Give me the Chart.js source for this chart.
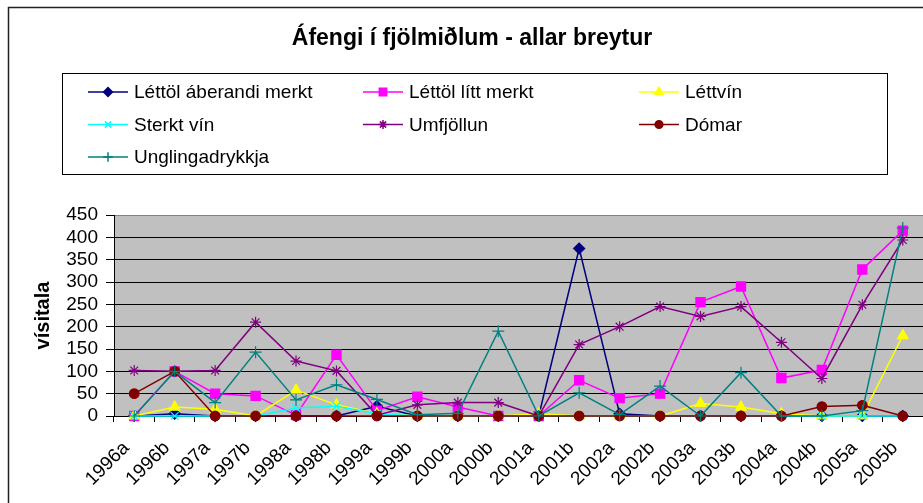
<!DOCTYPE html>
<html>
<head>
<meta charset="utf-8">
<script src="https://cdn.jsdelivr.net/npm/chart.js@4/dist/chart.umd.min.js"></script>
<style>
  html, body { margin: 0; padding: 0; background: #fff; }
  #wrap { width: 923px; height: 503px; position: relative; }
</style>
</head>
<body>
<div id="wrap"><canvas id="c"></canvas></div>
<script>
// ── Data ────────────────────────────────────────────────
const categories = ['1996a', '1996b', '1997a', '1997b', '1998a', '1998b', '1999a', '1999b', '2000a', '2000b',
  '2001a', '2001b', '2002a', '2002b', '2003a', '2003b', '2004a', '2004b', '2005a', '2005b'];

const lettolAberandi = [0, 5, 0, 0, 0, 0, 22, 0, 0, 0, 0, 375, 5, 0, 0, 0, 0, 0, 0, 0];
const lettolLitt     = [0, 100, 50, 45, 2, 137, 12, 43, 20, 0, 0, 80, 40, 50, 255, 290, 85, 103, 328, 415];
const lettvin        = [0, 20, 15, 0, 58, 25, 5, 0, 0, 0, 5, 0, 0, 0, 28, 20, 5, 0, 0, 180];
const sterktVin      = [0, 0, 0, 0, 18, 22, 5, 0, 0, 0, 0, 0, 0, 0, 0, 0, 0, 0, 0, 0];
const umfjollun      = [102, 100, 102, 210, 123, 101, 2, 25, 30, 30, 0, 160, 200, 245, 223, 245, 165, 84, 249, 394];
const domar          = [50, 100, 0, 0, 0, 0, 0, 0, 0, 0, 0, 0, 0, 0, 0, 0, 0, 21, 24, 0];
const unglinga       = [0, 100, 30, 143, 36, 70, 37, 3, 6, 190, 0, 52, 3, 67, 0, 97, 0, 0, 12, 421];

const yTicks = [0, 50, 100, 150, 200, 250, 300, 350, 400, 450];

const FONT = "'Liberation Sans', Arial, sans-serif";

// name, values, colour, point style, radius
const SERIES = [
  ['Léttöl áberandi merkt', lettolAberandi, '#000080', 'rectRot', 5.5],
  ['Léttöl lítt merkt', lettolLitt, '#FF00FF', 'rect', 6.5],
  ['Léttvín', lettvin, '#FFFF00', 'triangle', 6],
  ['Sterkt vín', sterktVin, '#00FFFF', 'crossRot', 5.5],
  ['Umfjöllun', umfjollun, '#800080', 'star', 5.5],
  ['Dómar', domar, '#800000', 'circle', 4.8],
  ['Unglingadrykkja', unglinga, '#008080', 'cross', 6],
];

// ── Plugins: chart frame, plot background, title, legend ─
const frame = {
  id: 'frame',
  beforeDraw(chart) {
    const { ctx, chartArea: a } = chart;
    ctx.save();
    ctx.fillStyle = '#fff';
    ctx.fillRect(0, 0, chart.width, chart.height);
    ctx.fillStyle = '#C0C0C0';
    ctx.fillRect(a.left, a.top, a.right - a.left, a.bottom - a.top);
    ctx.strokeStyle = '#222';
    ctx.lineWidth = 1.5;
    ctx.beginPath();
    ctx.moveTo(8.5, chart.height); ctx.lineTo(8.5, 7.5); ctx.lineTo(chart.width, 7.5);
    ctx.stroke();
    ctx.restore();
  },
  afterDraw(chart) {
    const ctx = chart.ctx;
    ctx.save();
    // title
    ctx.fillStyle = '#000';
    ctx.font = `bold 23px ${FONT}`;
    ctx.textAlign = 'center';
    ctx.textBaseline = 'middle';
    ctx.fillText('Áfengi í fjölmiðlum - allar breytur', 472, 39);
    // legend box
    ctx.strokeStyle = '#000';
    ctx.lineWidth = 1;
    ctx.strokeRect(62.5, 73.5, 825, 101);
    const colX = [88, 363, 639], rowY = [92, 124.5, 157];
    ctx.font = `19px ${FONT}`;
    ctx.textAlign = 'left';
    chart.data.datasets.forEach((ds, i) => {
      const x = colX[i % 3], y = rowY[Math.floor(i / 3)];
      ctx.strokeStyle = ds.borderColor;
      ctx.lineWidth = 1.5;
      ctx.beginPath(); ctx.moveTo(x, y); ctx.lineTo(x + 40, y); ctx.stroke();
      ctx.fillStyle = ds.backgroundColor;
      Chart.helpers.drawPoint(ctx, { pointStyle: ds.pointStyle, radius: ds.pointRadius * 0.8, rotation: 0, borderWidth: 1 }, x + 20, y);
      ctx.fillStyle = '#000';
      ctx.fillText(ds.label, x + 46, y + 1);
    });
    ctx.restore();
  }
};

// ── Chart ───────────────────────────────────────────────
Chart.defaults.color = '#000';
Chart.defaults.font.family = FONT;

new Chart(document.getElementById('c'), {
  type: 'line',
  data: {
    labels: categories,
    datasets: SERIES.map(([label, data, col, ps, r], i) => ({
      label, data,
      borderColor: col, backgroundColor: col,
      borderWidth: 1.5,
      pointStyle: ps, pointRadius: r, pointBorderWidth: 1.2,
      pointBorderColor: col, pointBackgroundColor: col,
      tension: 0, fill: false, clip: false,
      order: SERIES.length - i
    }))
  },
  options: {
    responsive: true, maintainAspectRatio: false, animation: false,
    layout: { autoPadding: false, padding: { top: 215, left: 8, right: 0, bottom: 0 } },
    plugins: { legend: { display: false }, title: { display: false }, tooltip: { enabled: false } },
    scales: {
      x: {
        type: 'category', offset: true,
        afterFit: s => { s.height = 87; s.paddingLeft = 0; s.paddingRight = 0; },
        grid: { offset: true, drawOnChartArea: false, drawTicks: true, tickLength: 6, tickColor: '#000' },
        border: { color: '#000', width: 1 },
        ticks: { autoSkip: false, minRotation: 45, maxRotation: 45, padding: 15, labelOffset: -8, font: { size: 19 }, color: '#000' }
      },
      y: {
        min: 0, max: 450,
        afterFit: s => { s.width = 106; },
        afterBuildTicks: s => { s.ticks = yTicks.map(v => ({ value: v })); },
        grid: {
          color: c => c.tick && c.tick.value === 450 ? '#808080' : '#000',
          lineWidth: 1, tickLength: 8, tickColor: '#000'
        },
        border: { color: '#000', width: 1 },
        ticks: { autoSkip: false, padding: 8, font: { size: 19 }, color: '#000' },
        title: { display: true, text: 'vísitala', font: { size: 20, weight: 'bold' }, padding: { top: 23, bottom: 0 } }
      }
    }
  },
  plugins: [frame]
});
</script>
</body>
</html>
